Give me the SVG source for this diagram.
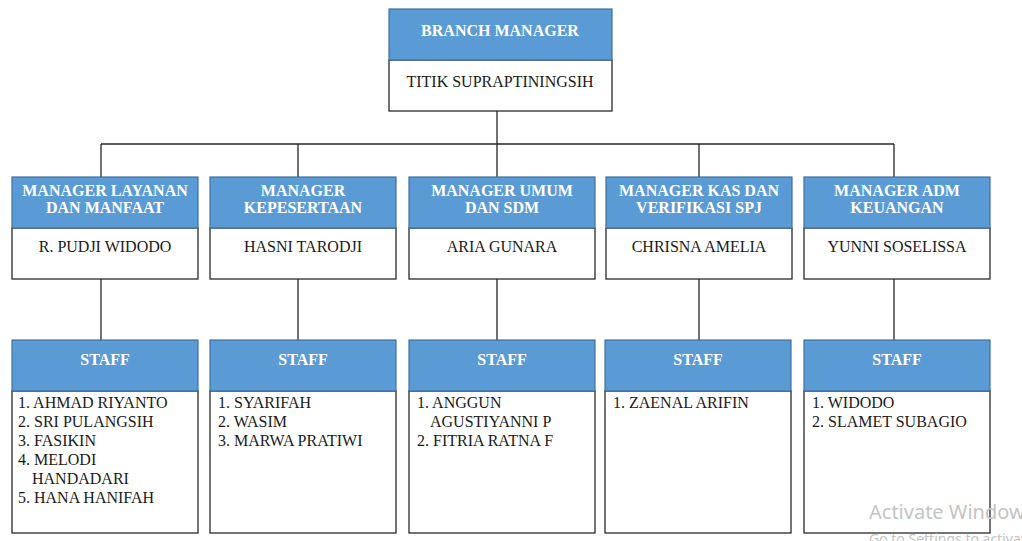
<svg xmlns="http://www.w3.org/2000/svg" width="1022" height="541" viewBox="0 0 1022 541">
  <style>
    .hd { fill: #5b9bd5; stroke: #41719c; stroke-width: 1.2; }
    .bd { fill: #ffffff; stroke: #2a2a2a; stroke-width: 1.3; }
    .ht { font-weight: bold; font-size: 16px; fill: #ffffff; text-anchor: middle; }
    .nt { font-size: 16px; fill: #1a1a1a; text-anchor: middle; }
    .lt { font-size: 16px; fill: #1a1a1a; }
    .ln { stroke: #262626; stroke-width: 1.3; fill: none; }
    .wm { fill: #c4c4c4; }
  </style>

  <rect width="1022" height="541" fill="#ffffff"/>

  <!-- connectors -->
  <g id="connectors">
    <path class="ln" d="M497 111 V144"/>
    <path class="ln" d="M101 144 H894"/>
    <path class="ln" d="M101 144 V177 M298 144 V177 M497 144 V177 M699 144 V177 M894 144 V177"/>
    <path class="ln" d="M101 279 V340 M298 279 V340 M497 279 V340 M699 279 V340 M894 279 V340"/>
  </g>

  <g font-family="Liberation Serif, Times New Roman, serif">
  <!-- top -->
  <g id="branch-manager">
    <rect class="bd" x="389" y="60" width="223" height="51"/>
    <rect class="hd" x="389" y="9" width="223" height="51"/>
    <text class="ht" x="500" y="36">BRANCH MANAGER</text>
    <text class="nt" x="500" y="87">TITIK SUPRAPTININGSIH</text>
  </g>

  <!-- managers -->
  <g id="mgr-layanan">
    <rect class="bd" x="12" y="228" width="186" height="51"/>
    <rect class="hd" x="12" y="177" width="186" height="51"/>
    <text class="ht" x="105" y="196">MANAGER LAYANAN</text>
    <text class="ht" x="105" y="213">DAN MANFAAT</text>
    <text class="nt" x="105" y="252">R. PUDJI WIDODO</text>
  </g>
  <g id="mgr-kepesertaan">
    <rect class="bd" x="210" y="228" width="186" height="51"/>
    <rect class="hd" x="210" y="177" width="186" height="51"/>
    <text class="ht" x="303" y="196">MANAGER</text>
    <text class="ht" x="303" y="213">KEPESERTAAN</text>
    <text class="nt" x="303" y="252">HASNI TARODJI</text>
  </g>
  <g id="mgr-umum">
    <rect class="bd" x="409" y="228" width="186" height="51"/>
    <rect class="hd" x="409" y="177" width="186" height="51"/>
    <text class="ht" x="502" y="196">MANAGER UMUM</text>
    <text class="ht" x="502" y="213">DAN SDM</text>
    <text class="nt" x="502" y="252">ARIA GUNARA</text>
  </g>
  <g id="mgr-kas">
    <rect class="bd" x="606" y="228" width="186" height="51"/>
    <rect class="hd" x="606" y="177" width="186" height="51"/>
    <text class="ht" x="699" y="196">MANAGER KAS DAN</text>
    <text class="ht" x="699" y="213">VERIFIKASI SPJ</text>
    <text class="nt" x="699" y="252">CHRISNA AMELIA</text>
  </g>
  <g id="mgr-adm">
    <rect class="bd" x="804" y="228" width="186" height="51"/>
    <rect class="hd" x="804" y="177" width="186" height="51"/>
    <text class="ht" x="897" y="196">MANAGER ADM</text>
    <text class="ht" x="897" y="213">KEUANGAN</text>
    <text class="nt" x="897" y="252">YUNNI SOSELISSA</text>
  </g>

  <!-- staff -->
  <g id="staff-layanan">
    <rect class="bd" x="12" y="391" width="186" height="142"/>
    <rect class="hd" x="12" y="340" width="186" height="51"/>
    <text class="ht" x="105" y="365">STAFF</text>
    <text class="lt">
      <tspan x="18" y="408">1. AHMAD RIYANTO</tspan>
      <tspan x="18" y="427">2. SRI PULANGSIH</tspan>
      <tspan x="18" y="446">3. FASIKIN</tspan>
      <tspan x="18" y="465">4. MELODI</tspan>
      <tspan x="32" y="484">HANDADARI</tspan>
      <tspan x="18" y="503">5. HANA HANIFAH</tspan>
    </text>
  </g>
  <g id="staff-kepesertaan">
    <rect class="bd" x="210" y="391" width="186" height="142"/>
    <rect class="hd" x="210" y="340" width="186" height="51"/>
    <text class="ht" x="303" y="365">STAFF</text>
    <text class="lt">
      <tspan x="218" y="408">1. SYARIFAH</tspan>
      <tspan x="218" y="427">2. WASIM</tspan>
      <tspan x="218" y="446">3. MARWA PRATIWI</tspan>
    </text>
  </g>
  <g id="staff-umum">
    <rect class="bd" x="409" y="391" width="186" height="142"/>
    <rect class="hd" x="409" y="340" width="186" height="51"/>
    <text class="ht" x="502" y="365">STAFF</text>
    <text class="lt">
      <tspan x="417" y="408">1. ANGGUN</tspan>
      <tspan x="430" y="427">AGUSTIYANNI P</tspan>
      <tspan x="417" y="446">2. FITRIA RATNA F</tspan>
    </text>
  </g>
  <g id="staff-kas">
    <rect class="bd" x="605" y="391" width="186" height="142"/>
    <rect class="hd" x="605" y="340" width="186" height="51"/>
    <text class="ht" x="698" y="365">STAFF</text>
    <text class="lt">
      <tspan x="613" y="408">1. ZAENAL ARIFIN</tspan>
    </text>
  </g>
  <g id="staff-adm">
    <rect class="bd" x="804" y="391" width="186" height="142"/>
    <rect class="hd" x="804" y="340" width="186" height="51"/>
    <text class="ht" x="897" y="365">STAFF</text>
    <text class="lt">
      <tspan x="812" y="408">1. WIDODO</tspan>
      <tspan x="812" y="427">2. SLAMET SUBAGIO</tspan>
    </text>
  </g>
  </g>

  <!-- system overlay text -->
  <g id="overlay" font-family="Noto Sans, Open Sans, sans-serif">
    <text class="wm" x="869" y="519" font-size="20">Activate Windows</text>
    <text class="wm" x="869" y="544" font-size="14">Go to Settings to activate Windows.</text>
  </g>
</svg>
